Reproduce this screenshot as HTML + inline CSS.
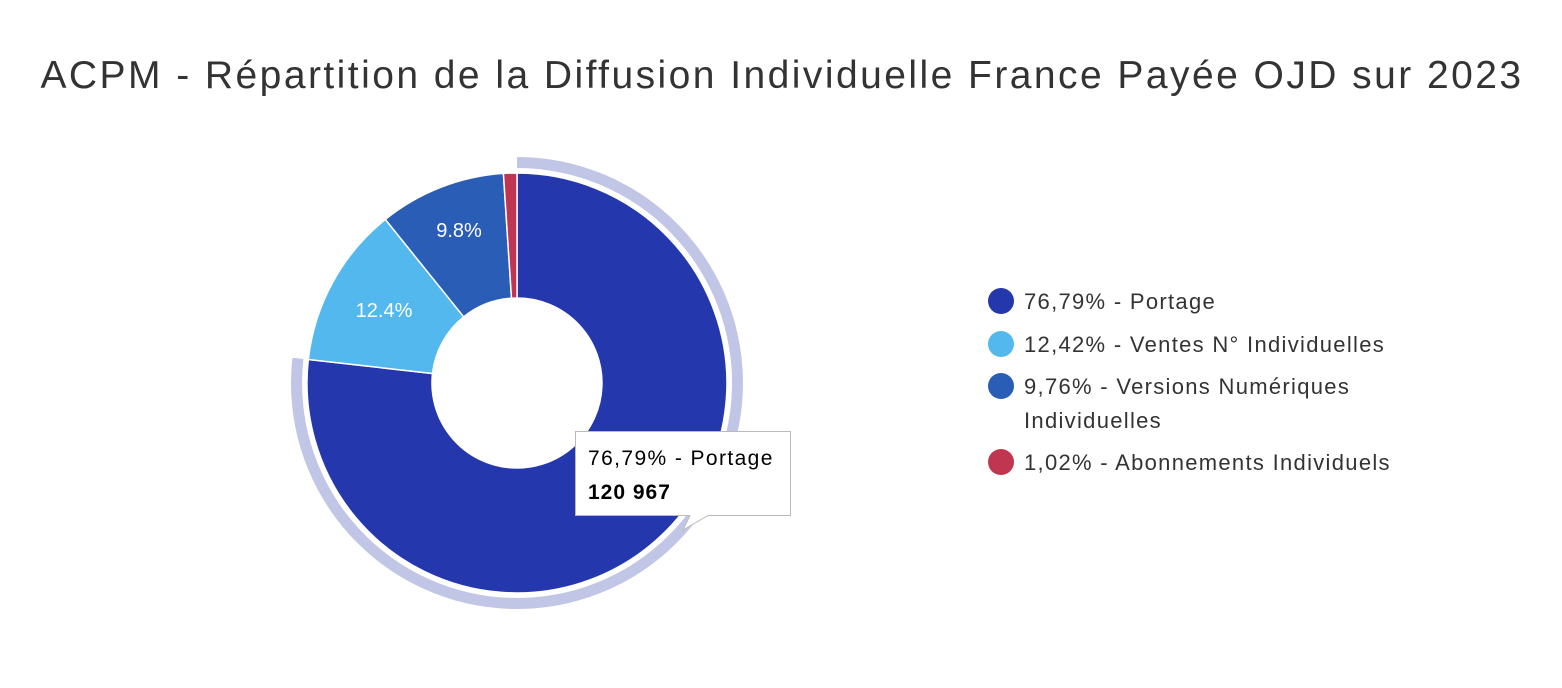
<!DOCTYPE html>
<html><head><meta charset="utf-8"><style>
body{margin:0;background:#fff;}
svg{display:block;font-family:"Liberation Sans",sans-serif;}
</style></head><body>
<svg width="1562" height="688" viewBox="0 0 1562 688">
<text x="782" y="88" text-anchor="middle" font-size="39" fill="#333" letter-spacing="2.45">ACPM - Répartition de la Diffusion Individuelle France Payée OJD sur 2023</text>
<path d="M517,157 A226,226 0 1 1 292.4,357.7 L303.4,358.9 A215,215 0 1 0 517,168 Z" fill="#c2c6e6"/>
<g stroke="#fff" stroke-width="1.5">
<path d="M517,173 A210,210 0 1 1 308.3,359.5 L432.5,373.5 A85,85 0 1 0 517,298 Z" fill="#2437ad"/>
<path d="M308.3,359.5 A210,210 0 0 1 385.3,219.4 L463.7,316.8 A85,85 0 0 0 432.5,373.5 Z" fill="#53b8ee"/>
<path d="M385.3,219.4 A210,210 0 0 1 503.4,173.4 L511.5,298.2 A85,85 0 0 0 463.7,316.8 Z" fill="#2a5db5"/>
<path d="M503.4,173.4 A210,210 0 0 1 517,173 L517,298 A85,85 0 0 0 511.5,298.2 Z" fill="#c0354f"/>
</g>
<text x="459" y="237" text-anchor="middle" font-size="20" fill="#fff">9.8%</text>
<text x="384" y="317" text-anchor="middle" font-size="20" fill="#fff">12.4%</text>
<path d="M575.5,431.5 H790.5 V515.5 H708 L683,530 L690,515.5 H575.5 Z" fill="#fff" stroke="#bbb" stroke-width="1"/>
<text x="588" y="465" font-size="21" fill="#000" letter-spacing="1.4">76,79% - Portage</text>
<text x="588" y="499" font-size="21" font-weight="bold" fill="#000" letter-spacing="1">120 967</text>
<g font-size="22" fill="#333" letter-spacing="1.3">
<circle cx="1001" cy="301" r="13" fill="#2437ad"/><text x="1024" y="309">76,79% - Portage</text>
<circle cx="1001" cy="344" r="13" fill="#53b8ee"/><text x="1024" y="352">12,42% - Ventes N° Individuelles</text>
<circle cx="1001" cy="386" r="13" fill="#2a5db5"/><text x="1024" y="394">9,76% - Versions Numériques</text><text x="1024" y="428">Individuelles</text>
<circle cx="1001" cy="462" r="13" fill="#c0354f"/><text x="1024" y="470">1,02% - Abonnements Individuels</text>
</g>
</svg>
</body></html>
